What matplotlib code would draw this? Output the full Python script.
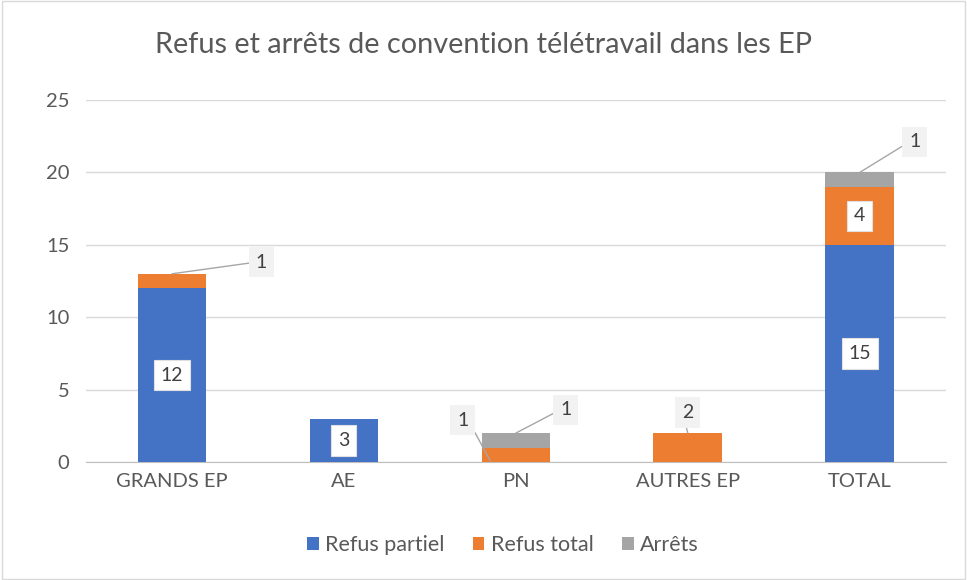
import matplotlib
matplotlib.use('Agg')
import matplotlib.pyplot as plt
import numpy as np

plt.rcParams['font.family'] = ['Lato', 'DejaVu Sans']

categories = ['GRANDS EP', 'AE', 'PN', 'AUTRES EP', 'TOTAL']
refus_partiel = [12, 3, 0, 0, 15]
refus_total = [1, 0, 1, 2, 4]
arrets = [0, 0, 1, 0, 1]
series_names = ['Refus partiel', 'Refus total', 'Arrêts']
colors = ['#4472C4', '#ED7D31', '#A5A5A5']
title = 'Refus et arrêts de convention télétravail dans les EP'

fig = plt.figure(figsize=(9.67, 5.8), dpi=100)
ax = fig.add_axes([0.089, 0.2034, 0.889, 0.6242])

x = np.arange(len(categories))
w = 0.4
b1 = ax.bar(x, refus_partiel, w, color=colors[0], label=series_names[0], zorder=3)
b2 = ax.bar(x, refus_total, w, bottom=refus_partiel, color=colors[1], label=series_names[1], zorder=3)
bottom3 = np.array(refus_partiel) + np.array(refus_total)
b3 = ax.bar(x, arrets, w, bottom=bottom3, color=colors[2], label=series_names[2], zorder=3)

ax.set_xlim(-0.5, len(categories) - 0.5)
ax.set_ylim(0, 25)
ax.set_yticks(range(0, 26, 5))
ax.set_xticks(x)
ax.set_xticklabels(categories)
ax.grid(axis='y', color='#d9d9d9', linewidth=1, zorder=0)
for s in ['top', 'right', 'left']:
    ax.spines[s].set_visible(False)
ax.spines['bottom'].set_color('#bfbfbf')
ax.tick_params(axis='both', length=0, labelsize=14.5, colors='#595959', pad=8)
ax.tick_params(axis='y', pad=12)

fig.suptitle(title, y=0.945, fontsize=20.8, color='#595959')

lbl = dict(ha='center', va='center', fontsize=14, color='#404040', zorder=5)
inbox = dict(boxstyle='square,pad=0.35', facecolor='white', edgecolor='#e0e0e0', linewidth=0.8)
callbox = dict(boxstyle='square,pad=0.35', facecolor='#f2f2f2', edgecolor='none')
lead = dict(arrowstyle='-', color='#a6a6a6', linewidth=1, shrinkA=0, shrinkB=0)

# labels inside the segments
ax.text(x[0], refus_partiel[0] / 2, str(refus_partiel[0]), bbox=inbox, **lbl)
ax.text(x[1], refus_partiel[1] / 2, str(refus_partiel[1]), bbox=inbox, **lbl)
ax.text(x[4], refus_partiel[4] / 2, str(refus_partiel[4]), bbox=inbox, **lbl)
ax.text(x[4], refus_partiel[4] + refus_total[4] / 2, str(refus_total[4]), bbox=inbox, **lbl)

# callouts with leader lines
def callout(xp, yp, xl, yl, val, side='right'):
    ax.annotate(str(val), xy=(xp, yp), xytext=(xl, yl), textcoords='data',
                ha='center', va='center', fontsize=14, color='#404040',
                bbox=callbox, zorder=6,
                arrowprops=dict(lead, relpos=(0, 0.5) if side == 'right' else (1, 0.5)))

callout(x[0], refus_partiel[0] + refus_total[0], 0.52, 13.8, refus_total[0])
callout(x[2] - 0.15, 0.1, 1.69, 2.9, refus_total[2], side='left')
callout(x[2], bottom3[2] + arrets[2], 2.29, 3.6, arrets[2])
callout(x[3], refus_total[3], 3.0, 3.4, refus_total[3])
callout(x[4], bottom3[4] + arrets[4], 4.32, 22.1, arrets[4])

leg = fig.legend(handles=[b1, b2, b3], labels=series_names, loc='center',
                 bbox_to_anchor=(0.52, 0.06), ncol=3, frameon=False,
                 fontsize=15.5, handlelength=0.55, handleheight=0.55,
                 handletextpad=0.3, columnspacing=1.3)
for t in leg.get_texts():
    t.set_color('#595959')

fig.patches.append(plt.Rectangle((0.002, 0.002), 0.996, 0.996, transform=fig.transFigure,
                                 fill=False, edgecolor='#d9d9d9', linewidth=1))

fig.savefig('out.png', dpi=100)
